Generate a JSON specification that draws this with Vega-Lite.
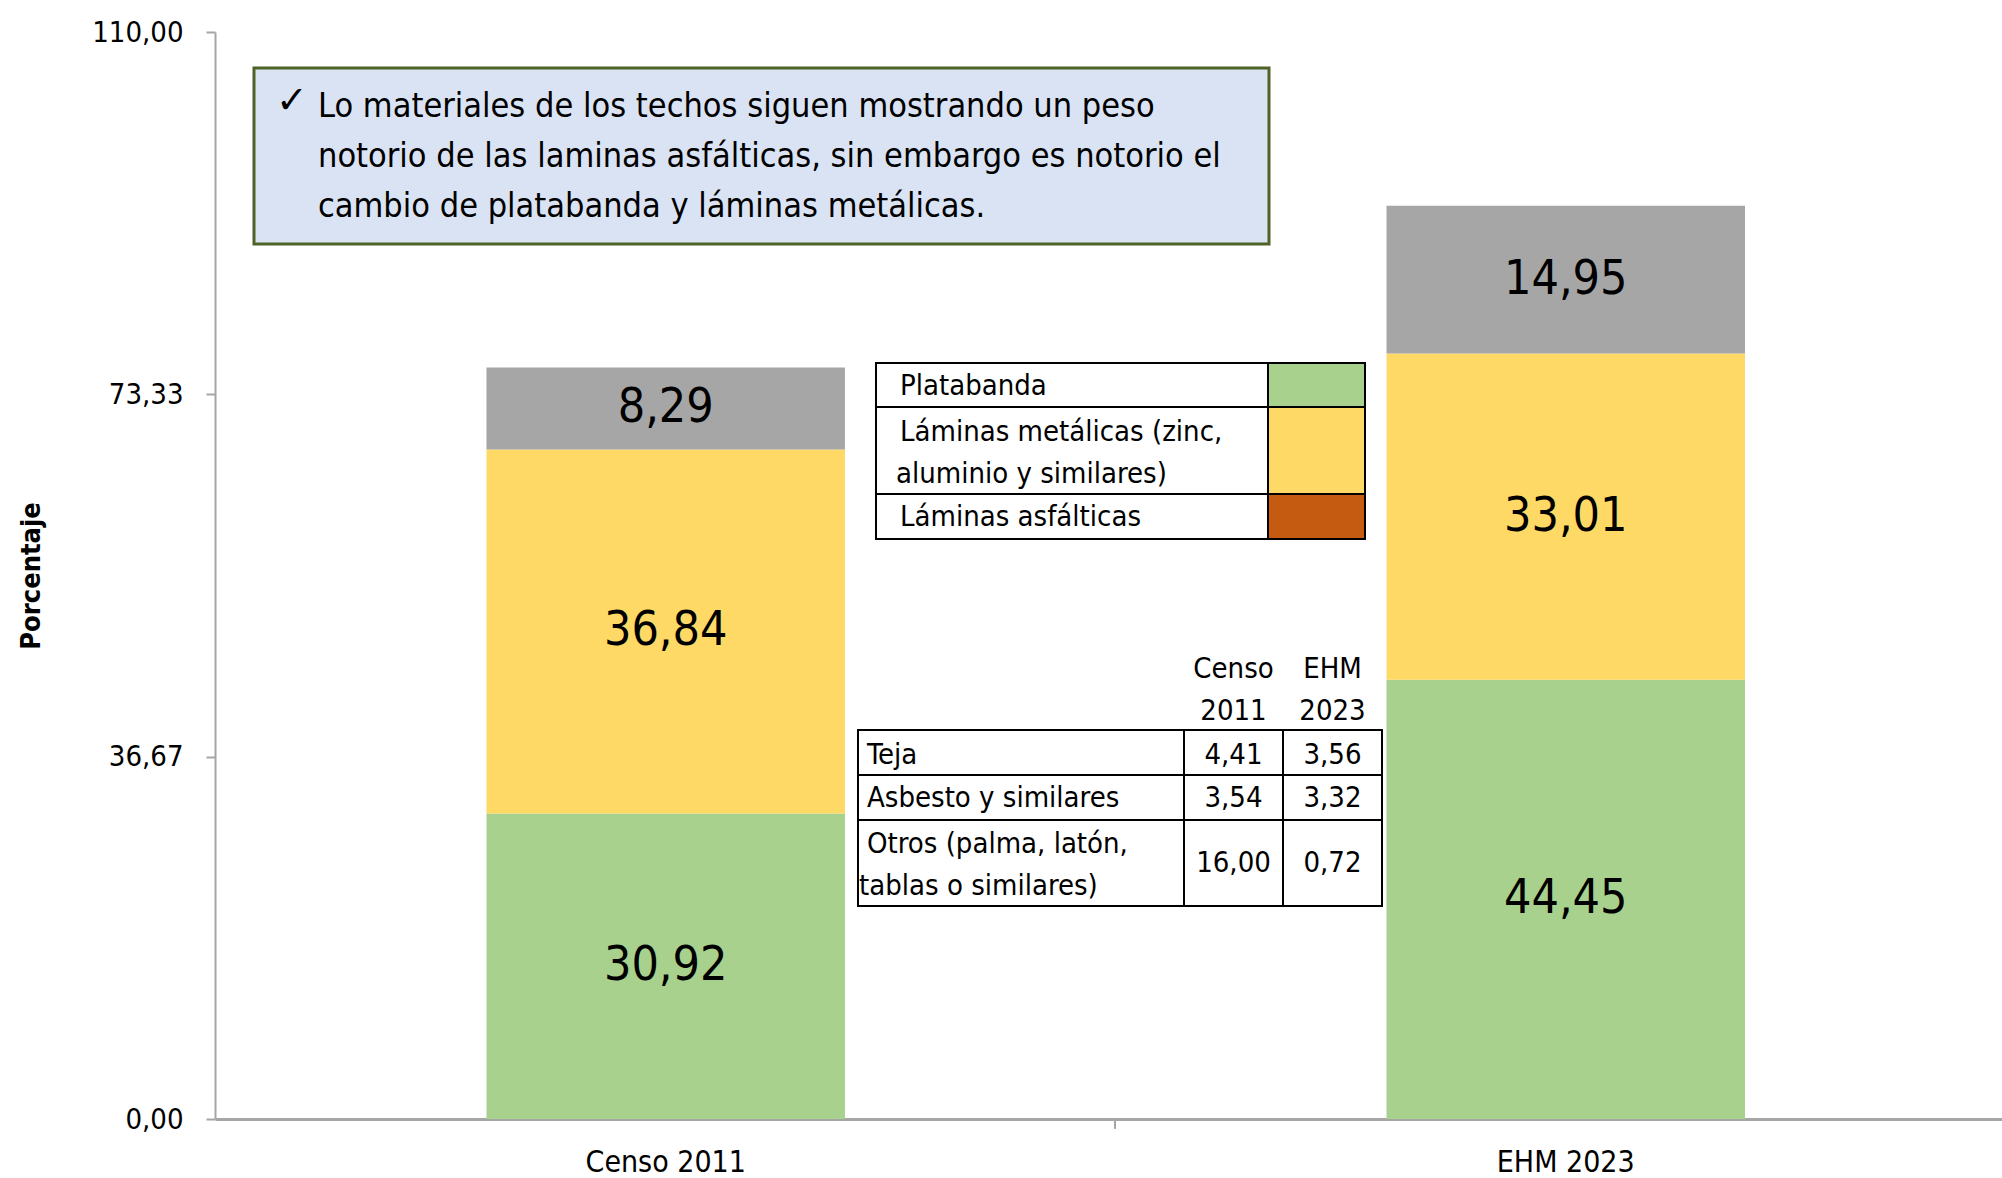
{
  "$schema": "https://vega.github.io/schema/vega-lite/v6.json",
  "width": 1787,
  "height": 1087,
  "autosize": {"type": "none"},
  "padding": {"left": 215, "top": 32, "right": 0, "bottom": 59},
  "background": "#ffffff",
  "config": {
    "font": "DejaVu Sans Condensed, Liberation Sans Narrow, Noto Sans",
    "view": {"stroke": null},
    "locale": {"number": {"decimal": ",", "thousands": ".", "grouping": [3], "currency": ["", " €"]}}
  },
  "datasets": {
    "barras": [
      {"periodo": "Censo 2011", "tipo": "Platabanda", "orden": 1, "valor": 30.92},
      {"periodo": "Censo 2011", "tipo": "Láminas metálicas (zinc, aluminio y similares)", "orden": 2, "valor": 36.84},
      {"periodo": "Censo 2011", "tipo": "Láminas asfálticas", "orden": 3, "valor": 8.29},
      {"periodo": "EHM 2023", "tipo": "Platabanda", "orden": 1, "valor": 44.45},
      {"periodo": "EHM 2023", "tipo": "Láminas metálicas (zinc, aluminio y similares)", "orden": 2, "valor": 33.01},
      {"periodo": "EHM 2023", "tipo": "Láminas asfálticas", "orden": 3, "valor": 14.95}
    ],
    "recuadro": [{"x": 0.04333, "x2": 1.17111, "y": 106.357, "y2": 88.547}],
    "lineas_recuadro": [
      {"texto": "Lo materiales de los techos siguen mostrando un peso", "x": 0.11444, "y": 102.41},
      {"texto": "notorio de las laminas asfálticas, sin embargo es notorio el", "x": 0.11444, "y": 97.351},
      {"texto": "cambio de platabanda y láminas metálicas.", "x": 0.11444, "y": 92.291}
    ],
    "check": [{"texto": "✓", "x": 0.0856, "y": 102.9}],
    "leyenda_celdas": [
      {"x": 0.73444, "x2": 1.17, "y": 76.504, "y2": 72.052},
      {"x": 0.73444, "x2": 1.17, "y": 72.052, "y2": 63.248},
      {"x": 0.73444, "x2": 1.17, "y": 63.248, "y2": 58.694}
    ],
    "leyenda_muestras": [
      {"tipo": "Platabanda", "x": 1.17, "x2": 1.27778, "y": 76.504, "y2": 72.052},
      {"tipo": "Láminas metálicas (zinc, aluminio y similares)", "x": 1.17, "x2": 1.27778, "y": 72.052, "y2": 63.248},
      {"tipo": "Láminas asfálticas", "x": 1.17, "x2": 1.27778, "y": 63.248, "y2": 58.694}
    ],
    "etiquetas": [
      {"texto": "Platabanda", "x": 0.76111, "y": 74.177},
      {"texto": "Láminas metálicas (zinc,", "x": 0.76111, "y": 69.522},
      {"texto": "aluminio y similares)", "x": 0.75667, "y": 65.271},
      {"texto": "Láminas asfálticas", "x": 0.76111, "y": 60.92},
      {"texto": "Teja", "x": 0.72444, "y": 36.835},
      {"texto": "Asbesto y similares", "x": 0.72444, "y": 32.484},
      {"texto": "Otros (palma, latón,", "x": 0.72444, "y": 27.829},
      {"texto": "tablas o similares)", "x": 0.71556, "y": 23.579}
    ],
    "tabla_celdas": [
      {"x": 0.71444, "x2": 1.07667, "y": 39.365, "y2": 34.811},
      {"x": 1.07667, "x2": 1.18667, "y": 39.365, "y2": 34.811},
      {"x": 1.18667, "x2": 1.29667, "y": 39.365, "y2": 34.811},
      {"x": 0.71444, "x2": 1.07667, "y": 34.811, "y2": 30.258},
      {"x": 1.07667, "x2": 1.18667, "y": 34.811, "y2": 30.258},
      {"x": 1.18667, "x2": 1.29667, "y": 34.811, "y2": 30.258},
      {"x": 0.71444, "x2": 1.07667, "y": 30.258, "y2": 21.555},
      {"x": 1.07667, "x2": 1.18667, "y": 30.258, "y2": 21.555},
      {"x": 1.18667, "x2": 1.29667, "y": 30.258, "y2": 21.555}
    ],
    "tabla_valores": [
      {"fila": "Teja", "periodo": "Censo 2011", "valor": 4.41, "x": 1.13167, "y": 36.835},
      {"fila": "Teja", "periodo": "EHM 2023", "valor": 3.56, "x": 1.24167, "y": 36.835},
      {"fila": "Asbesto y similares", "periodo": "Censo 2011", "valor": 3.54, "x": 1.13167, "y": 32.484},
      {"fila": "Asbesto y similares", "periodo": "EHM 2023", "valor": 3.32, "x": 1.24167, "y": 32.484},
      {"fila": "Otros (palma, latón, tablas o similares)", "periodo": "Censo 2011", "valor": 16.0, "x": 1.13167, "y": 25.906},
      {"fila": "Otros (palma, latón, tablas o similares)", "periodo": "EHM 2023", "valor": 0.72, "x": 1.24167, "y": 25.906}
    ],
    "tabla_encabezado": [
      {"texto": "Censo", "x": 1.13167, "y": 45.538},
      {"texto": "2011", "x": 1.13167, "y": 41.288},
      {"texto": "EHM", "x": 1.24167, "y": 45.538},
      {"texto": "2023", "x": 1.24167, "y": 41.288}
    ],
    "marca_eje": [{"x": 1.0, "y": 0, "y2": -1.0}]
  },
  "resolve": {"scale": {"x": "independent", "color": "independent", "fill": "independent"}},
  "layer": [
    {
      "data": {"name": "barras"},
      "mark": {"type": "bar"},
      "encoding": {
        "x": {
          "field": "periodo", "type": "nominal",
          "scale": {"type": "band", "domain": ["Censo 2011", "EHM 2023"], "paddingInner": 0.6017, "paddingOuter": 0.2936, "align": 0.5137},
          "axis": {"title": null, "labelAngle": 0, "ticks": false, "tickSize": 0, "labelPadding": 28, "labelLimit": 0, "labelFontSize": 30, "labelColor": "#000000", "domainColor": "#A6A6A6", "domainWidth": 3}
        },
        "y": {
          "field": "valor", "type": "quantitative", "stack": "zero",
          "scale": {"domain": [0, 110], "nice": false},
          "axis": {"values": [0, 36.6667, 73.3333, 110], "format": ".2f", "title": "Porcentaje", "titleFontSize": 27, "titleFontWeight": "bold", "titleColor": "#000000", "titlePadding": 46, "labelFontSize": 29, "labelColor": "#000000", "labelPadding": 23, "tickSize": 9, "tickColor": "#A6A6A6", "tickWidth": 2, "domainColor": "#A6A6A6", "domainWidth": 2, "grid": false}
        },
        "color": {
          "field": "tipo", "type": "nominal",
          "scale": {"domain": ["Platabanda", "Láminas metálicas (zinc, aluminio y similares)", "Láminas asfálticas"], "range": ["#A9D18E", "#FFD966", "#A6A6A6"]},
          "legend": null
        },
        "order": {"field": "orden", "type": "quantitative"}
      }
    },
    {
      "data": {"name": "barras"},
      "mark": {"type": "text", "fontSize": 48, "color": "#000000", "baseline": "middle", "align": "center"},
      "encoding": {
        "x": {
          "field": "periodo", "type": "nominal",
          "scale": {"type": "band", "domain": ["Censo 2011", "EHM 2023"], "paddingInner": 0.6017, "paddingOuter": 0.2936, "align": 0.5137},
          "axis": null
        },
        "y": {"field": "valor", "type": "quantitative", "stack": "zero", "bandPosition": 0.5, "scale": {"domain": [0, 110], "nice": false}},
        "detail": {"field": "tipo", "type": "nominal"},
        "order": {"field": "orden", "type": "quantitative"},
        "text": {"field": "valor", "type": "quantitative", "format": ".2f"}
      }
    },
    {
      "data": {"name": "recuadro"},
      "mark": {"type": "rect", "fill": "#DAE3F3", "stroke": "#4F6228", "strokeWidth": 3},
      "encoding": {
        "x": {"field": "x", "type": "quantitative", "scale": {"domain": [0, 1.98556], "nice": false, "zero": false}, "axis": null},
        "x2": {"field": "x2"},
        "y": {"field": "y", "type": "quantitative", "scale": {"domain": [0, 110], "nice": false}},
        "y2": {"field": "y2"}
      }
    },
    {
      "data": {"name": "lineas_recuadro"},
      "mark": {"type": "text", "fontSize": 34, "color": "#000000", "align": "left", "baseline": "middle"},
      "encoding": {
        "x": {"field": "x", "type": "quantitative", "scale": {"domain": [0, 1.98556], "nice": false, "zero": false}, "axis": null},
        "y": {"field": "y", "type": "quantitative", "scale": {"domain": [0, 110], "nice": false}},
        "text": {"field": "texto", "type": "nominal"}
      }
    },
    {
      "data": {"name": "check"},
      "mark": {"type": "text", "fontSize": 38, "font": "DejaVu Sans", "color": "#000000", "align": "center", "baseline": "middle"},
      "encoding": {
        "x": {"field": "x", "type": "quantitative", "scale": {"domain": [0, 1.98556], "nice": false, "zero": false}, "axis": null},
        "y": {"field": "y", "type": "quantitative", "scale": {"domain": [0, 110], "nice": false}},
        "text": {"field": "texto", "type": "nominal"}
      }
    },
    {
      "data": {"name": "leyenda_celdas"},
      "mark": {"type": "rect", "fill": "#ffffff", "stroke": "#000000", "strokeWidth": 2},
      "encoding": {
        "x": {"field": "x", "type": "quantitative", "scale": {"domain": [0, 1.98556], "nice": false, "zero": false}, "axis": null},
        "x2": {"field": "x2"},
        "y": {"field": "y", "type": "quantitative", "scale": {"domain": [0, 110], "nice": false}},
        "y2": {"field": "y2"}
      }
    },
    {
      "data": {"name": "leyenda_muestras"},
      "mark": {"type": "rect", "stroke": "#000000", "strokeWidth": 2},
      "encoding": {
        "x": {"field": "x", "type": "quantitative", "scale": {"domain": [0, 1.98556], "nice": false, "zero": false}, "axis": null},
        "x2": {"field": "x2"},
        "y": {"field": "y", "type": "quantitative", "scale": {"domain": [0, 110], "nice": false}},
        "y2": {"field": "y2"},
        "fill": {
          "field": "tipo", "type": "nominal",
          "scale": {"domain": ["Platabanda", "Láminas metálicas (zinc, aluminio y similares)", "Láminas asfálticas"], "range": ["#A9D18E", "#FFD966", "#C55A11"]},
          "legend": null
        }
      }
    },
    {
      "data": {"name": "tabla_celdas"},
      "mark": {"type": "rect", "fill": "#ffffff", "stroke": "#000000", "strokeWidth": 2},
      "encoding": {
        "x": {"field": "x", "type": "quantitative", "scale": {"domain": [0, 1.98556], "nice": false, "zero": false}, "axis": null},
        "x2": {"field": "x2"},
        "y": {"field": "y", "type": "quantitative", "scale": {"domain": [0, 110], "nice": false}},
        "y2": {"field": "y2"}
      }
    },
    {
      "data": {"name": "etiquetas"},
      "mark": {"type": "text", "fontSize": 29, "color": "#000000", "align": "left", "baseline": "middle"},
      "encoding": {
        "x": {"field": "x", "type": "quantitative", "scale": {"domain": [0, 1.98556], "nice": false, "zero": false}, "axis": null},
        "y": {"field": "y", "type": "quantitative", "scale": {"domain": [0, 110], "nice": false}},
        "text": {"field": "texto", "type": "nominal"}
      }
    },
    {
      "data": {"name": "tabla_encabezado"},
      "mark": {"type": "text", "fontSize": 29, "color": "#000000", "align": "center", "baseline": "middle"},
      "encoding": {
        "x": {"field": "x", "type": "quantitative", "scale": {"domain": [0, 1.98556], "nice": false, "zero": false}, "axis": null},
        "y": {"field": "y", "type": "quantitative", "scale": {"domain": [0, 110], "nice": false}},
        "text": {"field": "texto", "type": "nominal"}
      }
    },
    {
      "data": {"name": "tabla_valores"},
      "mark": {"type": "text", "fontSize": 29, "color": "#000000", "align": "center", "baseline": "middle"},
      "encoding": {
        "x": {"field": "x", "type": "quantitative", "scale": {"domain": [0, 1.98556], "nice": false, "zero": false}, "axis": null},
        "y": {"field": "y", "type": "quantitative", "scale": {"domain": [0, 110], "nice": false}},
        "text": {"field": "valor", "type": "quantitative", "format": ".2f"}
      }
    },
    {
      "data": {"name": "marca_eje"},
      "mark": {"type": "rule", "color": "#A6A6A6", "strokeWidth": 2},
      "encoding": {
        "x": {"field": "x", "type": "quantitative", "scale": {"domain": [0, 1.98556], "nice": false, "zero": false}, "axis": null},
        "y": {"field": "y", "type": "quantitative", "scale": {"domain": [0, 110], "nice": false}},
        "y2": {"field": "y2"}
      }
    }
  ]
}
